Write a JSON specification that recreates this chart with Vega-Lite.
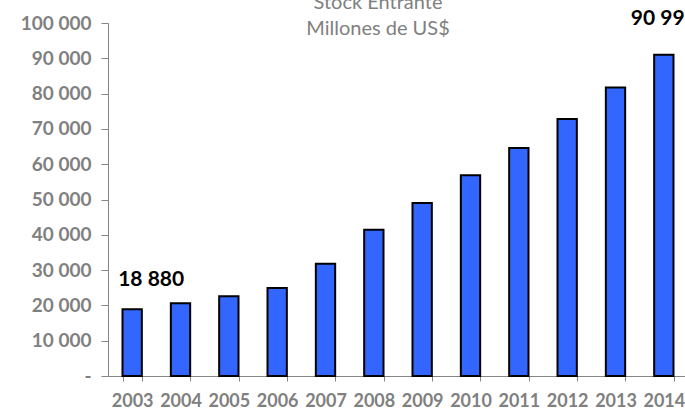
{
  "$schema": "https://vega.github.io/schema/vega-lite/v6.json",
  "autosize": {"type": "none"},
  "padding": {"left": 108, "top": 23, "right": 0, "bottom": 34},
  "width": 580,
  "height": 353,
  "config": {
    "view": {"stroke": null},
    "font": "Lato",
    "locale": {"number": {"decimal": ",", "thousands": " ", "grouping": [3], "currency": ["", " $"]}}
  },
  "title": {
    "text": "Stock Entrante",
    "subtitle": "Millones de US$",
    "anchor": "middle",
    "dx": -20,
    "offset": -31,
    "font": "Lato",
    "fontSize": 20,
    "fontWeight": "normal",
    "color": "#808080",
    "subtitleFont": "Lato",
    "subtitleFontSize": 20,
    "subtitleColor": "#808080",
    "subtitlePadding": 6
  },
  "data": {
    "values": [
      {"year": "2003", "value": 18880},
      {"year": "2004", "value": 20600},
      {"year": "2005", "value": 22600},
      {"year": "2006", "value": 24900},
      {"year": "2007", "value": 31800},
      {"year": "2008", "value": 41400},
      {"year": "2009", "value": 49000},
      {"year": "2010", "value": 56900},
      {"year": "2011", "value": 64600},
      {"year": "2012", "value": 72800},
      {"year": "2013", "value": 81700},
      {"year": "2014", "value": 90993}
    ]
  },
  "encoding": {
    "x": {
      "field": "year",
      "type": "nominal",
      "scale": {"paddingInner": 0.6, "paddingOuter": 0.3},
      "axis": {
        "title": null,
        "labelAngle": 0,
        "labelFont": "Lato",
        "labelFontSize": 18,
        "labelFontWeight": "bold",
        "labelColor": "#808080",
        "labelPadding": 11,
        "domainColor": "#868686",
        "tickColor": "#868686",
        "tickBand": "extent",
        "tickSize": 5
      }
    },
    "y": {
      "field": "value",
      "type": "quantitative",
      "scale": {"domain": [0, 100000], "nice": false},
      "axis": {
        "title": null,
        "values": [0, 10000, 20000, 30000, 40000, 50000, 60000, 70000, 80000, 90000, 100000],
        "labelExpr": "datum.value == 0 ? '-' : format(datum.value, ',d')",
        "labelFont": "Lato",
        "labelFontSize": 19,
        "labelFontWeight": "bold",
        "labelColor": "#808080",
        "labelPadding": 10,
        "grid": false,
        "domainColor": "#868686",
        "tickColor": "#868686",
        "tickSize": 7
      }
    }
  },
  "layer": [
    {
      "mark": {"type": "bar", "color": "#3366FF", "stroke": "#000000", "strokeWidth": 2}
    },
    {
      "transform": [{"filter": "datum.year == '2003'"}],
      "mark": {"type": "text", "font": "Lato", "fontSize": 21, "fontWeight": "bold", "color": "#000000", "align": "left", "baseline": "middle", "dx": -14, "dy": -29},
      "encoding": {"text": {"field": "value", "type": "quantitative", "format": ",d"}}
    },
    {
      "transform": [{"filter": "datum.year == '2014'"}],
      "mark": {"type": "text", "font": "Lato", "fontSize": 21, "fontWeight": "bold", "color": "#000000", "align": "left", "baseline": "middle", "dx": -33, "dy": -36},
      "encoding": {"text": {"field": "value", "type": "quantitative", "format": ",d"}}
    }
  ]
}
